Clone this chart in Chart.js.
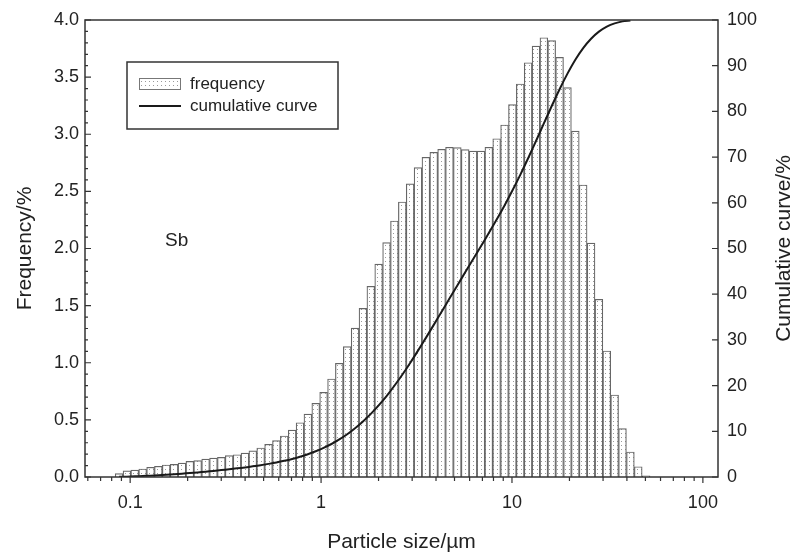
<!DOCTYPE html>
<html>
<head>
<meta charset="utf-8">
<script src="https://cdn.jsdelivr.net/npm/chart.js@4.4.0/dist/chart.umd.min.js"></script>
<style>
    html, body { margin: 0; padding: 0; background: #fff; }
    #wrap { width: 793px; height: 554px; }
</style>
</head>
<body>
<div id="wrap"><canvas id="chart" width="793" height="554"></canvas></div>
<script>
// bin centres (µm)
const sizes = [0.0875, 0.0962, 0.1057, 0.1163, 0.1279, 0.1405, 0.1545, 0.1699, 0.1868, 0.2054,
    0.2258, 0.2484, 0.2731, 0.3003, 0.3302, 0.3631, 0.3993, 0.4390, 0.4827, 0.5307,
    0.5834, 0.6415, 0.7054, 0.7756, 0.8528, 0.9376, 1.031, 1.134, 1.246, 1.371,
    1.507, 1.657, 1.822, 2.003, 2.203, 2.422, 2.663, 2.928, 3.219, 3.540,
    3.892, 4.279, 4.705, 5.173, 5.688, 6.255, 6.877, 7.561, 8.313, 9.142,
    10.05, 11.05, 12.15, 13.36, 14.69, 16.15, 17.76, 19.53, 21.47, 23.60,
    25.96, 28.54, 31.38, 34.50, 37.93, 41.72, 45.87, 50.43];

// frequency (%)
const frequency = [0.03, 0.054, 0.061, 0.07, 0.085, 0.094, 0.105, 0.11, 0.122, 0.137,
    0.143, 0.157, 0.166, 0.172, 0.187, 0.195, 0.21, 0.228, 0.254, 0.286,
    0.318, 0.359, 0.411, 0.475, 0.551, 0.645, 0.741, 0.858, 0.995, 1.141,
    1.304, 1.476, 1.669, 1.864, 2.051, 2.241, 2.407, 2.565, 2.708, 2.798,
    2.842, 2.868, 2.886, 2.883, 2.865, 2.853, 2.853, 2.886, 2.961, 3.081,
    3.26, 3.44, 3.626, 3.772, 3.845, 3.819, 3.673, 3.408, 3.028, 2.556,
    2.048, 1.555, 1.103, 0.718, 0.423, 0.219, 0.09, 0.01];

// cumulative curve (%)
const cumulative = [0.03, 0.08, 0.15, 0.22, 0.30, 0.39, 0.50, 0.61, 0.73, 0.87,
    1.01, 1.17, 1.33, 1.51, 1.69, 1.89, 2.10, 2.33, 2.58, 2.87,
    3.18, 3.54, 3.95, 4.43, 4.98, 5.63, 6.37, 7.22, 8.22, 9.36,
    10.66, 12.14, 13.81, 15.67, 17.72, 19.97, 22.37, 24.94, 27.65, 30.44,
    33.29, 36.15, 39.04, 41.92, 44.79, 47.64, 50.49, 53.38, 56.34, 59.42,
    62.68, 66.12, 69.75, 73.52, 77.36, 81.18, 84.86, 88.26, 91.29, 93.85,
    95.90, 97.45, 98.55, 99.27, 99.70, 99.91, null, null];

const xMajorTicks = [0.1, 1, 10, 100];
const xTickLabels = ['0.1', '1', '10', '100'];
const xMinorTicks = [0.06, 0.07, 0.08, 0.09,
    0.2, 0.3, 0.4, 0.5, 0.6, 0.7, 0.8, 0.9,
    2, 3, 4, 5, 6, 7, 8, 9,
    20, 30, 40, 50, 60, 70, 80, 90];
const yTicks = [0, 0.5, 1, 1.5, 2, 2.5, 3, 3.5, 4];
const y2Ticks = [0, 10, 20, 30, 40, 50, 60, 70, 80, 90, 100];
const legendLabels = ['frequency', 'cumulative curve'];

const FONT = "'Liberation Sans', Arial, sans-serif";
const TEXT = '#222';

function makeDots() {
    const c = document.createElement('canvas');
    c.width = 4; c.height = 4;
    const g = c.getContext('2d');
    g.fillStyle = '#fff';
    g.fillRect(0, 0, 4, 4);
    g.fillStyle = '#9a9a9a';
    g.fillRect(1, 1, 1, 1);
    return document.getElementById('chart').getContext('2d').createPattern(c, 'repeat');
}
const dots = makeDots();

const framePlugin = {
    id: 'frame',
    afterDatasetsDraw(chart) {
        const { ctx, chartArea: a, scales } = chart;
        ctx.save();
        ctx.strokeStyle = '#333';
        ctx.lineWidth = 1.5;
        ctx.strokeRect(a.left, a.top, a.right - a.left, a.bottom - a.top);

        ctx.lineWidth = 1.2;
        ctx.beginPath();
        xMajorTicks.forEach(v => {
            const px = scales.x.getPixelForValue(v);
            ctx.moveTo(px, a.bottom); ctx.lineTo(px, a.bottom + 6);
        });
        xMinorTicks.forEach(v => {
            const px = scales.x.getPixelForValue(v);
            ctx.moveTo(px, a.bottom); ctx.lineTo(px, a.bottom + 4);
        });
        for (let i = 0; i <= 40; i++) {
            const py = scales.y.getPixelForValue(i / 10);
            ctx.moveTo(a.left, py); ctx.lineTo(a.left + (i % 5 === 0 ? 6 : 3), py);
        }
        y2Ticks.forEach(v => {
            const py = scales.y2.getPixelForValue(v);
            ctx.moveTo(a.right, py); ctx.lineTo(a.right - 6, py);
        });
        ctx.stroke();

        // legend
        ctx.lineWidth = 1.5;
        ctx.strokeStyle = '#333';
        ctx.strokeRect(127, 62, 211, 67);
        ctx.fillStyle = dots;
        ctx.fillRect(139, 78, 41, 11);
        ctx.lineWidth = 1;
        ctx.strokeStyle = '#777';
        ctx.strokeRect(139.5, 78.5, 41, 11);
        ctx.lineWidth = 2;
        ctx.strokeStyle = '#1a1a1a';
        ctx.beginPath();
        ctx.moveTo(139, 106); ctx.lineTo(181, 106);
        ctx.stroke();

        ctx.fillStyle = TEXT;
        ctx.font = '17px ' + FONT;
        ctx.textBaseline = 'middle';
        ctx.textAlign = 'left';
        ctx.fillText(legendLabels[0], 190, 84);
        ctx.fillText(legendLabels[1], 190, 106);

        ctx.font = '19px ' + FONT;
        ctx.fillText('Sb', 165, 241);

        // right axis title, reading upward like the left one
        ctx.font = '21px ' + FONT;
        ctx.translate(784, (a.top + a.bottom) / 2);
        ctx.rotate(-Math.PI / 2);
        ctx.textAlign = 'center';
        ctx.fillText('Cumulative curve/%', 0, 0);
        ctx.restore();
    }
};

const ctx = document.getElementById('chart').getContext('2d');
new Chart(ctx, {
    type: 'bar',
    data: {
        datasets: [
            {
                type: 'line',
                label: legendLabels[1],
                data: sizes.map((s, i) => ({ x: s, y: cumulative[i] })),
                yAxisID: 'y2',
                borderColor: '#1a1a1a',
                borderWidth: 2,
                pointRadius: 0,
                tension: 0.3,
                order: 0
            },
            {
                type: 'bar',
                label: legendLabels[0],
                data: sizes.map((s, i) => ({ x: s, y: frequency[i] })),
                yAxisID: 'y',
                backgroundColor: dots,
                borderColor: '#666',
                borderWidth: 1.2,
                barPercentage: 1,
                categoryPercentage: 1,
                order: 1
            }
        ]
    },
    options: {
        responsive: false,
        animation: false,
        layout: { padding: { top: 20, left: 0, right: 0, bottom: 0 } },
        plugins: {
            legend: { display: false },
            tooltip: { enabled: false }
        },
        scales: {
            x: {
                type: 'logarithmic',
                min: 0.058,
                max: 120,
                offset: false,
                grid: { display: false, drawTicks: false, offset: false },
                border: { display: false },
                ticks: {
                    autoSkip: false,
                    maxRotation: 0,
                    padding: 15,
                    color: TEXT,
                    font: { family: FONT, size: 18 },
                    callback: value => {
                        const i = xMajorTicks.findIndex(t => Math.abs(Math.log10(value) - Math.log10(t)) < 1e-6);
                        return i >= 0 ? xTickLabels[i] : '';
                    }
                },
                title: {
                    display: true,
                    text: 'Particle size/µm',
                    color: TEXT,
                    font: { family: FONT, size: 21, lineHeight: 1 },
                    padding: { top: 0, bottom: 1.5 }
                },
                afterFit: s => { s.height = 77; }
            },
            y: {
                position: 'left',
                min: 0,
                max: 4,
                grid: { display: false, drawTicks: false },
                border: { display: false },
                afterBuildTicks: s => { s.ticks = yTicks.map(v => ({ value: v })); },
                ticks: {
                    padding: 6,
                    color: TEXT,
                    font: { family: FONT, size: 18 },
                    callback: v => Number(v).toFixed(1)
                },
                title: {
                    display: true,
                    text: 'Frequency/%',
                    color: TEXT,
                    font: { family: FONT, size: 21, lineHeight: 1 },
                    padding: { top: 14.5, bottom: 0 }
                },
                afterFit: s => { s.width = 85; }
            },
            y2: {
                position: 'right',
                min: 0,
                max: 100,
                grid: { display: false, drawTicks: false },
                border: { display: false },
                afterBuildTicks: s => { s.ticks = y2Ticks.map(v => ({ value: v })); },
                ticks: {
                    padding: 9,
                    color: TEXT,
                    font: { family: FONT, size: 18 }
                },
                afterFit: s => { s.width = 75; }
            }
        }
    },
    plugins: [framePlugin]
});
</script>
</body>
</html>
